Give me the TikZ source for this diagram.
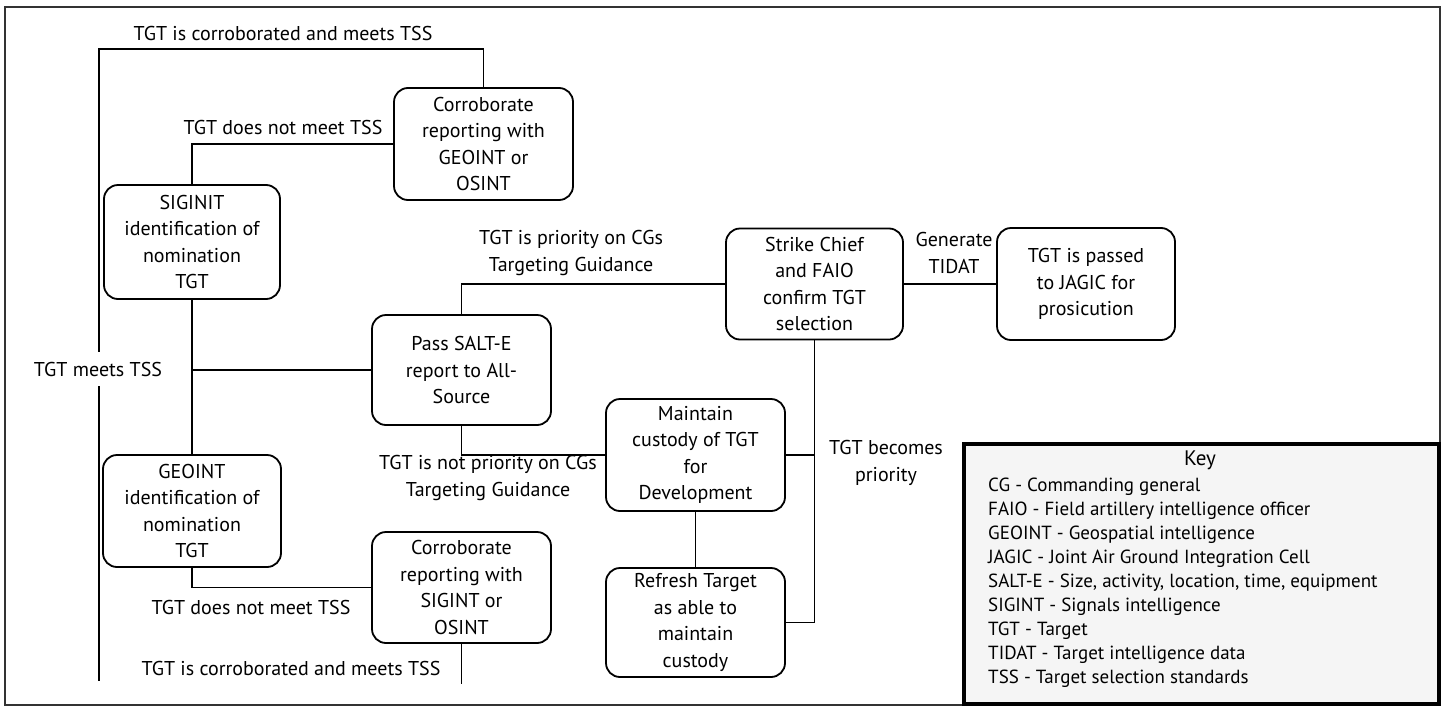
\documentclass[tikz,border=0pt]{standalone}
\usepackage{fontspec}
\setmainfont{PT Sans}
\begin{document}
\begin{tikzpicture}[x=1pt,y=-1pt,
  box/.style={draw, line width=1.8pt, rounded corners=14pt, align=center, inner sep=0pt, font=\fontsize{20}{26.6}\selectfont},
  conn/.style={line width=1.8pt},
  lbl/.style={align=center, inner sep=1pt, font=\fontsize{20}{26.6}\selectfont},
  keytxt/.style={anchor=west, inner sep=0pt, font=\fontsize{19}{22}\selectfont}]
\useasboundingbox (0,0) rectangle (1445,707);
\draw[line width=1.5pt, black!80] (5,7) rectangle (1440,705);
% boxes
\node[box, minimum width=179pt, minimum height=112pt] (A) at (483.5,144) {Corroborate\\reporting with\\GEOINT or\\OSINT};
\node[box, minimum width=176pt, minimum height=114pt] (B) at (192,242) {SIGINIT\\identification of\\nomination\\TGT};
\node[box, minimum width=178pt, minimum height=112pt] (C) at (192,511) {GEOINT\\identification of\\nomination\\TGT};
\node[box, minimum width=179pt, minimum height=110pt] (D) at (461.5,370) {Pass SALT-E\\report to All-\\Source};
\node[box, minimum width=179pt, minimum height=111pt] (G) at (461.5,587.5) {Corroborate\\reporting with\\SIGINT or\\OSINT};
\node[box, minimum width=177pt, minimum height=111pt] (E) at (814.5,284) {Strike Chief\\and FAIO\\confirm TGT\\selection};
\node[box, minimum width=178pt, minimum height=112pt] (H) at (1086,284) {TGT is passed\\to JAGIC for\\prosicution};
\node[box, minimum width=179pt, minimum height=112pt] (F) at (695.5,455) {Maintain\\custody of TGT\\for\\Development};
\node[box, minimum width=179pt, minimum height=109pt] (R) at (695.5,622.5) {Refresh Target\\as able to\\maintain\\custody};
% coordinates
\coordinate (lt) at (99,49);
\coordinate (lb) at (99,681);
\coordinate (gb) at (461.5,684);
% connectors
\draw[conn] (A.north) |- (lt) -- (lb);
\draw[conn] (A.west) -| (B.north);
\draw[conn] (B.south) -- (C.north);
\draw[conn] (B.south |- D.west) -- (D.west);
\draw[conn] (D.north) |- (E.west);
\draw[conn] (D.south) |- (F.west);
\draw[conn] (C.south) |- (G.west);
\draw[conn] (G.south) -- (gb);
\draw[conn] (E.east) -- (H.west);
\draw[conn] (E.south) |- (R.east);
\draw[conn] (F.east) -- (E.south |- F.east);
\draw[conn] (F.south) -- (R.north);
% labels
\node[lbl] (l1) at (283,33) {TGT is corroborated and meets TSS};
\node[lbl] (l2) at (283,127) {TGT does not meet TSS};
\node[lbl, fill=white, inner ysep=10pt] (l3) at (98,369) {TGT meets TSS};
\node[lbl] (l4) at (571,253) {TGT is priority on CGs\\Targeting Guidance};
\node[lbl] (l5) at (488,478) {TGT is not priority on CGs\\Targeting Guidance};
\node[lbl] (l6) at (251,607) {TGT does not meet TSS};
\node[lbl] (l7) at (291,668) {TGT is corroborated and meets TSS};
\node[lbl] (l8) at (954,253) {Generate\\TIDAT};
\node[lbl] (l9) at (886,463) {TGT becomes\\priority};
% key
\draw[line width=3.5pt, fill=black!4] (964,444) rectangle (1439,704);
\node[lbl, font=\fontsize{21}{26}\selectfont] (key) at (1200,460) {Key};
\node[keytxt] (k1) at (988,487) {CG - Commanding general};
\node[keytxt] (k2) at (988,511) {FAIO - Field artillery intelligence officer};
\node[keytxt] (k3) at (988,535) {GEOINT - Geospatial intelligence};
\node[keytxt] (k4) at (988,559) {JAGIC - Joint Air Ground Integration Cell};
\node[keytxt] (k5) at (988,583) {SALT-E - Size, activity, location, time, equipment};
\node[keytxt] (k6) at (988,607) {SIGINT - Signals intelligence};
\node[keytxt] (k7) at (988,631) {TGT - Target};
\node[keytxt] (k8) at (988,655) {TIDAT - Target intelligence data};
\node[keytxt] (k9) at (988,679) {TSS - Target selection standards};
\end{tikzpicture}
\end{document}
